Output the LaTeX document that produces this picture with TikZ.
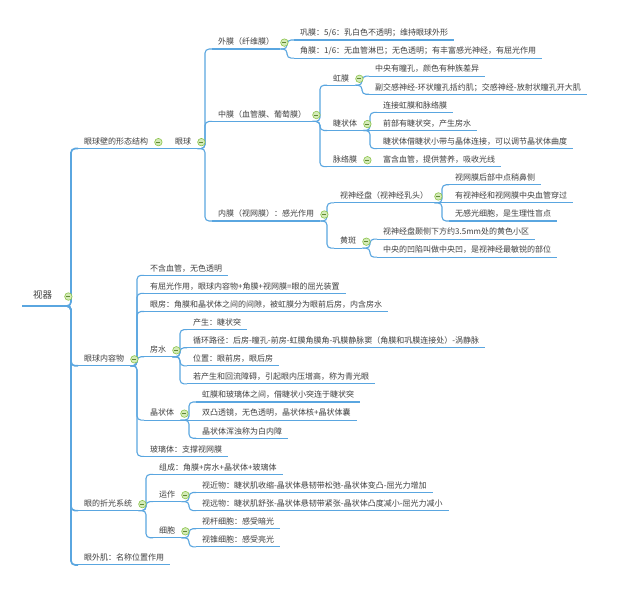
\documentclass[tikz,border=0pt]{standalone}
\usepackage{fontspec}
\newfontfamily\cjk{Noto Sans CJK SC}
\definecolor{branch}{HTML}{5AA6E0}
\definecolor{txt}{HTML}{404040}
\definecolor{foldline}{HTML}{8BC34A}
\definecolor{foldfill}{HTML}{D4EBB8}

\begin{document}
\begin{tikzpicture}[x=1pt,y=-1pt,
  uline/.style={draw=branch,line width=1.1pt},
  topic/.style={anchor=south west,inner xsep=6pt,inner ysep=2.5pt,text height=6pt,text depth=1.5pt,
    font=\cjk\fontsize{8}{9}\selectfont,text=txt,
    append after command={(\tikzlastnode.south west) edge[uline] (\tikzlastnode.south east)}},
  root/.style={topic,inner xsep=11pt,inner ysep=5.5pt,font=\cjk\fontsize{9.5}{11}\selectfont},
  conn/.style={draw=branch,line width=1.1pt,rounded corners=4pt},
  trunk/.style={conn,line width=1.7pt},
  fold/.style={circle,draw=foldline,fill=foldfill,line width=0.6pt,minimum size=7.5pt,inner sep=0pt,
    path picture={\draw[foldline!70!black,line width=0.7pt]
      ([xshift=-2pt]path picture bounding box.center) -- ([xshift=2pt]path picture bounding box.center);}}
]

\fill[white] (0,0) rectangle (640,596);
\useasboundingbox (0,0) rectangle (640,596);

\node[root] (shiqi) at (22,306) {视器};

% 眼球壁
\node[topic] (yqb) at (78,148.6) {眼球壁的形态结构};
\node[topic] (yanqiu) at (169,148.6) {眼球};
\node[topic] (waimo) at (212,49.05) {外膜（纤维膜）};
\node[topic] (gongmo) at (294,40) {巩膜：5/6：乳白色不透明；维持眼球外形};
\node[topic] (jiaomo) at (294,58.1) {角膜：1/6：无血管淋巴；无色透明；有丰富感光神经，有屈光作用};
\node[topic] (zhongmo) at (212,121.45) {中膜（血管膜、葡萄膜）};
\node[topic] (hongmo) at (327,85.25) {虹膜};
\node[topic] (hongmo1) at (369,76.2) {中央有瞳孔，颜色有种族差异};
\node[topic] (hongmo2) at (369,94.3) {副交感神经-环状瞳孔括约肌；交感神经-放射状瞳孔开大肌};
\node[topic] (jzt) at (327,130.5) {睫状体};
\node[topic] (jzt1) at (377,112.4) {连接虹膜和脉络膜};
\node[topic] (jzt2) at (377,130.5) {前部有睫状突，产生房水};
\node[topic] (jzt3) at (377,148.6) {睫状体借睫状小带与晶体连接，可以调节晶状体曲度};
\node[topic] (mlm) at (327,166.7) {脉络膜};
\node[topic] (mlm1) at (377,166.7) {富含血管，提供营养，吸收光线};
\node[topic] (neimo) at (212,221) {内膜（视网膜）：感光作用};
\node[topic] (spd) at (334,202.9) {视神经盘（视神经乳头）};
\node[topic] (spd1) at (449,184.8) {视网膜后部中点稍鼻侧};
\node[topic] (spd2) at (449,202.9) {有视神经和视网膜中央血管穿过};
\node[topic] (spd3) at (449,221) {无感光细胞，是生理性盲点};
\node[topic] (hb) at (334,248.15) {黄斑};
\node[topic] (hb1) at (377,239.1) {视神经盘颞侧下方约3.5mm处的黄色小区};
\node[topic] (hb2) at (377,257.2) {中央的凹陷叫做中央凹，是视神经最敏锐的部位};

% 眼球内容物
\node[topic] (nrw) at (78,365.8) {眼球内容物};
\node[topic] (nrw1) at (144,275.3) {不含血管，无色透明};
\node[topic] (nrw2) at (144,293.4) {有屈光作用，眼球内容物+角膜+视网膜=眼的屈光装置};
\node[topic] (yanfang) at (144,311.5) {眼房：角膜和晶状体之间的间隙，被虹膜分为眼前后房，内含房水};
\node[topic] (fangshui) at (144,356.75) {房水};
\node[topic] (fs1) at (187,329.6) {产生：睫状突};
\node[topic] (fs2) at (187,347.7) {循环路径：后房-瞳孔-前房-虹膜角膜角-巩膜静脉窦（角膜和巩膜连接处）-涡静脉};
\node[topic] (fs3) at (187,365.8) {位置：眼前房，眼后房};
\node[topic] (fs4) at (187,383.9) {若产生和回流障碍，引起眼内压增高，称为青光眼};
\node[topic] (jingti) at (144,420.1) {晶状体};
\node[topic] (jt1) at (196,402) {虹膜和玻璃体之间，借睫状小突连于睫状突};
\node[topic] (jt2) at (196,420.1) {双凸透镜，无色透明，晶状体核+晶状体囊};
\node[topic] (jt3) at (196,438.2) {晶状体浑浊称为白内障};
\node[topic] (blt) at (144,456.3) {玻璃体：支撑视网膜};

% 折光系统
\node[topic] (zheguang) at (78,510.6) {眼的折光系统};
\node[topic] (zg1) at (153,474.4) {组成：角膜+房水+晶状体+玻璃体};
\node[topic] (yunzuo) at (153,501.55) {运作};
\node[topic] (yz1) at (196,492.5) {视近物：睫状肌收缩-晶状体悬韧带松弛-晶状体变凸-屈光力增加};
\node[topic] (yz2) at (196,510.6) {视远物：睫状肌舒张-晶状体悬韧带紧张-晶状体凸度减小-屈光力减小};
\node[topic] (xibao) at (153,537.75) {细胞};
\node[topic] (xb1) at (196,528.7) {视杆细胞：感受暗光};
\node[topic] (xb2) at (196,546.8) {视锥细胞：感受亮光};

\node[topic] (ywj) at (78,564.9) {眼外肌：名称位置作用};

% connectors
\draw[trunk] (shiqi.south east) -| ([xshift=-7pt]yqb.south west) -- (yqb.south west);
\draw[trunk] (shiqi.south east) -| ([xshift=-7pt]nrw.south west) -- (nrw.south west);
\draw[trunk] (shiqi.south east) -| ([xshift=-7pt]zheguang.south west) -- (zheguang.south west);
\draw[trunk] (shiqi.south east) -| ([xshift=-7pt]ywj.south west) -- (ywj.south west);

\draw[conn] (yqb.south east) -- (yanqiu.south west);
\draw[conn] (yanqiu.south east) -| ([xshift=-7pt]waimo.south west) -- (waimo.south west);
\draw[conn] (yanqiu.south east) -| ([xshift=-7pt]zhongmo.south west) -- (zhongmo.south west);
\draw[conn] (yanqiu.south east) -| ([xshift=-7pt]neimo.south west) -- (neimo.south west);

\draw[conn] (waimo.south east) -| ([xshift=-7pt]gongmo.south west) -- (gongmo.south west);
\draw[conn] (waimo.south east) -| ([xshift=-7pt]jiaomo.south west) -- (jiaomo.south west);

\draw[conn] (zhongmo.south east) -| ([xshift=-7pt]hongmo.south west) -- (hongmo.south west);
\draw[conn] (zhongmo.south east) -| ([xshift=-7pt]jzt.south west) -- (jzt.south west);
\draw[conn] (zhongmo.south east) -| ([xshift=-7pt]mlm.south west) -- (mlm.south west);
\draw[conn] (hongmo.south east) -| ([xshift=-7pt]hongmo1.south west) -- (hongmo1.south west);
\draw[conn] (hongmo.south east) -| ([xshift=-7pt]hongmo2.south west) -- (hongmo2.south west);
\draw[conn] (jzt.south east) -| ([xshift=-7pt]jzt1.south west) -- (jzt1.south west);
\draw[conn] (jzt.south east) -- (jzt2.south west);
\draw[conn] (jzt.south east) -| ([xshift=-7pt]jzt3.south west) -- (jzt3.south west);
\draw[conn] (mlm.south east) -- (mlm1.south west);

\draw[conn] (neimo.south east) -| ([xshift=-7pt]spd.south west) -- (spd.south west);
\draw[conn] (neimo.south east) -| ([xshift=-7pt]hb.south west) -- (hb.south west);
\draw[conn] (spd.south east) -| ([xshift=-7pt]spd1.south west) -- (spd1.south west);
\draw[conn] (spd.south east) -- (spd2.south west);
\draw[conn] (spd.south east) -| ([xshift=-7pt]spd3.south west) -- (spd3.south west);
\draw[conn] (hb.south east) -| ([xshift=-7pt]hb1.south west) -- (hb1.south west);
\draw[conn] (hb.south east) -| ([xshift=-7pt]hb2.south west) -- (hb2.south west);

\draw[conn] (nrw.south east) -| ([xshift=-7pt]nrw1.south west) -- (nrw1.south west);
\draw[conn] (nrw.south east) -| ([xshift=-7pt]nrw2.south west) -- (nrw2.south west);
\draw[conn] (nrw.south east) -| ([xshift=-7pt]yanfang.south west) -- (yanfang.south west);
\draw[conn] (nrw.south east) -| ([xshift=-7pt]fangshui.south west) -- (fangshui.south west);
\draw[conn] (nrw.south east) -| ([xshift=-7pt]jingti.south west) -- (jingti.south west);
\draw[conn] (nrw.south east) -| ([xshift=-7pt]blt.south west) -- (blt.south west);
\draw[conn] (fangshui.south east) -| ([xshift=-7pt]fs1.south west) -- (fs1.south west);
\draw[conn] (fangshui.south east) -| ([xshift=-7pt]fs2.south west) -- (fs2.south west);
\draw[conn] (fangshui.south east) -| ([xshift=-7pt]fs3.south west) -- (fs3.south west);
\draw[conn] (fangshui.south east) -| ([xshift=-7pt]fs4.south west) -- (fs4.south west);
\draw[conn] (jingti.south east) -| ([xshift=-7pt]jt1.south west) -- (jt1.south west);
\draw[conn] (jingti.south east) -- (jt2.south west);
\draw[conn] (jingti.south east) -| ([xshift=-7pt]jt3.south west) -- (jt3.south west);

\draw[conn] (zheguang.south east) -| ([xshift=-7pt]zg1.south west) -- (zg1.south west);
\draw[conn] (zheguang.south east) -| ([xshift=-7pt]yunzuo.south west) -- (yunzuo.south west);
\draw[conn] (zheguang.south east) -| ([xshift=-7pt]xibao.south west) -- (xibao.south west);
\draw[conn] (yunzuo.south east) -| ([xshift=-7pt]yz1.south west) -- (yz1.south west);
\draw[conn] (yunzuo.south east) -| ([xshift=-7pt]yz2.south west) -- (yz2.south west);
\draw[conn] (xibao.south east) -| ([xshift=-7pt]xb1.south west) -- (xb1.south west);
\draw[conn] (xibao.south east) -| ([xshift=-7pt]xb2.south west) -- (xb2.south west);

% fold buttons
\node[fold] (f-shiqi) at ([xshift=5pt]shiqi.east) {};
\node[fold] (f-yqb) at ([xshift=4pt]yqb.east) {};
\node[fold] (f-yanqiu) at ([xshift=4pt]yanqiu.east) {};
\node[fold] (f-waimo) at ([xshift=4pt]waimo.east) {};
\node[fold] (f-zhongmo) at ([xshift=4pt]zhongmo.east) {};
\node[fold] (f-hongmo) at ([xshift=4pt]hongmo.east) {};
\node[fold] (f-jzt) at ([xshift=4pt]jzt.east) {};
\node[fold] (f-mlm) at ([xshift=4pt]mlm.east) {};
\node[fold] (f-neimo) at ([xshift=4pt]neimo.east) {};
\node[fold] (f-spd) at ([xshift=4pt]spd.east) {};
\node[fold] (f-hb) at ([xshift=4pt]hb.east) {};
\node[fold] (f-nrw) at ([xshift=4pt]nrw.east) {};
\node[fold] (f-fangshui) at ([xshift=4pt]fangshui.east) {};
\node[fold] (f-jingti) at ([xshift=4pt]jingti.east) {};
\node[fold] (f-zheguang) at ([xshift=4pt]zheguang.east) {};
\node[fold] (f-yunzuo) at ([xshift=4pt]yunzuo.east) {};
\node[fold] (f-xibao) at ([xshift=4pt]xibao.east) {};

\end{tikzpicture}
\end{document}
